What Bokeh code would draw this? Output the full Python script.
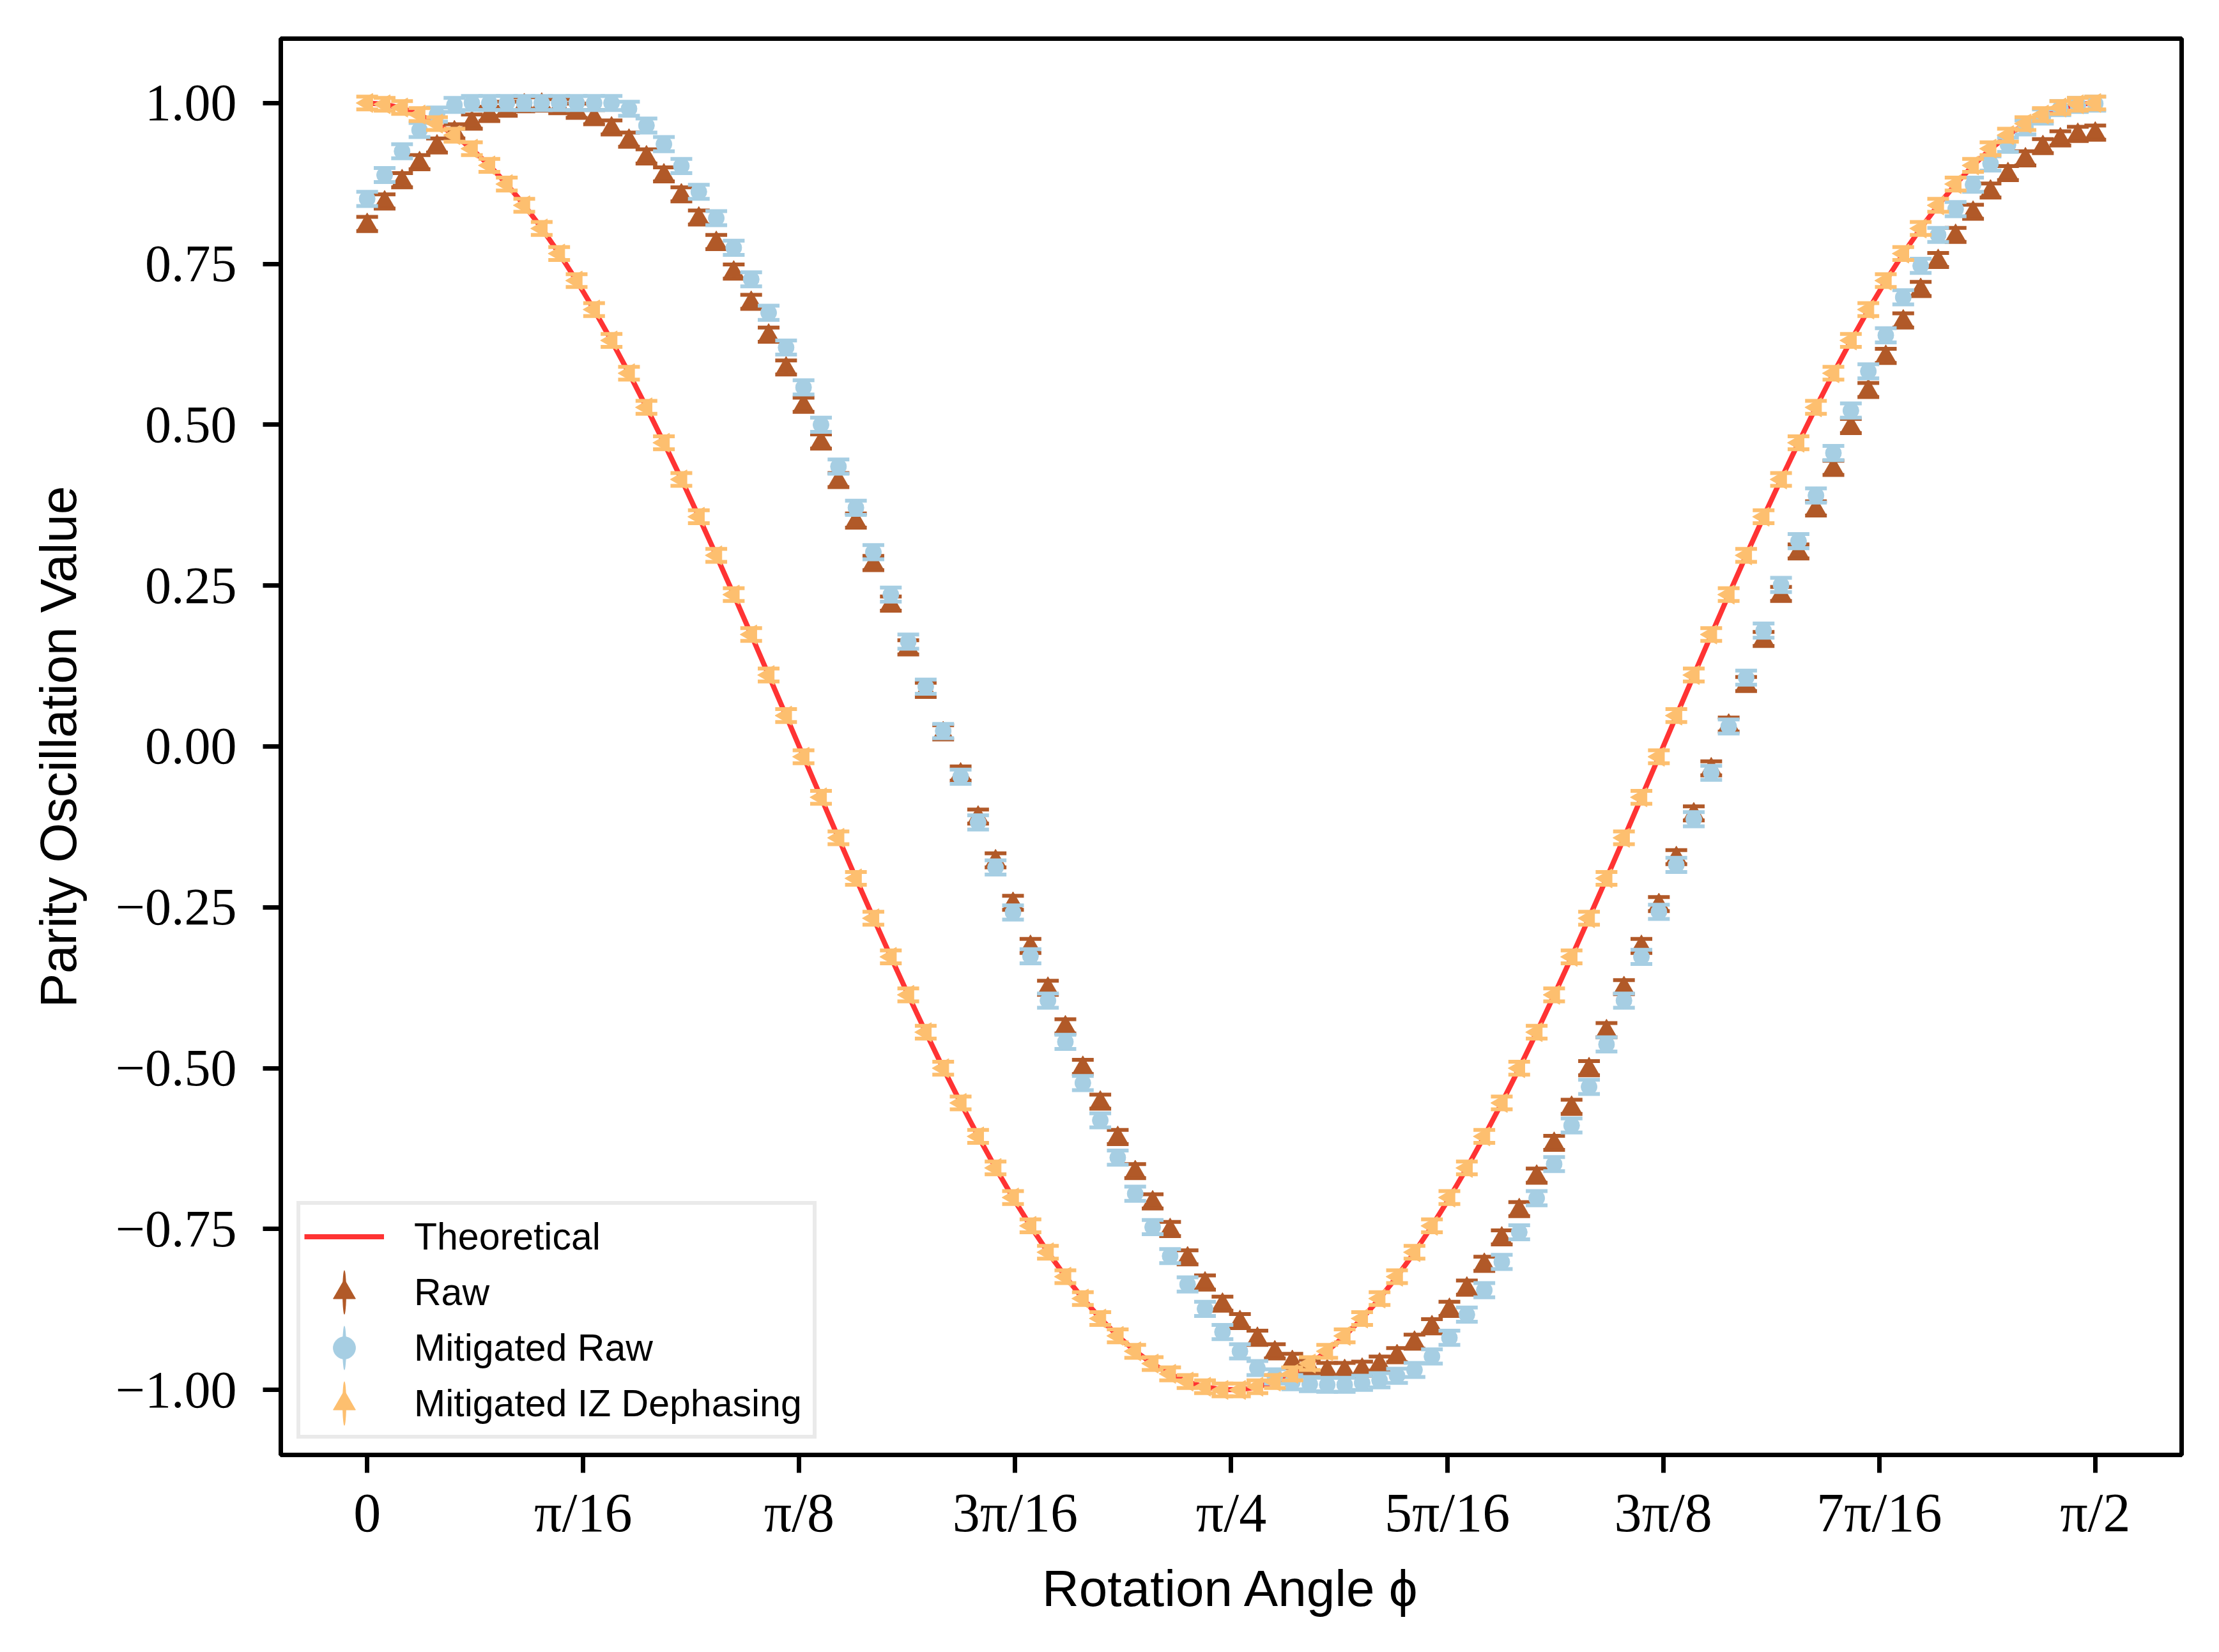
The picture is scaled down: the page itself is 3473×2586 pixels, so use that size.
import numpy as np
from bokeh.plotting import figure
from bokeh.models import Range1d, FixedTicker, Legend, LegendItem
from bokeh.embed import file_html
from bokeh.resources import INLINE

# ---------------- data ----------------
phi = np.linspace(0, np.pi / 2, 100)

theory = [1.0, 0.998, 0.9920, 0.9819, 0.9679, 0.9501, 0.9284, 0.9029, 0.8738, 0.8413,
          0.8053, 0.7660, 0.7237, 0.6785, 0.6305, 0.5800, 0.5271, 0.4721, 0.4154, 0.3569,
          0.2969, 0.2358, 0.1736, 0.1108, 0.0476, -0.0159, -0.0792, -0.1423, -0.2048, -0.2665,
          -0.3271, -0.3863, -0.4441, -0.5, -0.5539, -0.6056, -0.6549, -0.7015, -0.7453, -0.7861,
          -0.8237, -0.8580, -0.8888, -0.9160, -0.9397, -0.9595, -0.9754, -0.9874, -0.9955, -0.9995,
          -0.9995, -0.9955, -0.9874, -0.9754, -0.9595, -0.9397, -0.9160, -0.8888, -0.8580, -0.8237,
          -0.7861, -0.7453, -0.7015, -0.6549, -0.6056, -0.5539, -0.5, -0.4441, -0.3863, -0.3271,
          -0.2665, -0.2048, -0.1423, -0.0792, -0.0159, 0.0476, 0.1108, 0.1736, 0.2358, 0.2969,
          0.3569, 0.4154, 0.4721, 0.5271, 0.5800, 0.6305, 0.6785, 0.7237, 0.7660, 0.8053,
          0.8413, 0.8738, 0.9029, 0.9284, 0.9501, 0.9679, 0.9819, 0.9920, 0.998, 1.0]

raw = [0.812, 0.847, 0.880, 0.908, 0.934, 0.956, 0.971, 0.983, 0.991, 0.998,
       0.999, 0.995, 0.988, 0.978, 0.962, 0.943, 0.917, 0.889, 0.858, 0.822,
       0.784, 0.738, 0.691, 0.640, 0.589, 0.531, 0.474, 0.414, 0.351, 0.285,
       0.222, 0.154, 0.088, 0.022, -0.042, -0.109, -0.177, -0.243, -0.310, -0.375,
       -0.435, -0.498, -0.552, -0.607, -0.660, -0.707, -0.750, -0.794, -0.833, -0.866,
       -0.893, -0.919, -0.940, -0.955, -0.964, -0.969, -0.969, -0.967, -0.959, -0.946,
       -0.925, -0.901, -0.874, -0.841, -0.804, -0.763, -0.719, -0.667, -0.616, -0.560,
       -0.500, -0.441, -0.374, -0.310, -0.245, -0.172, -0.104, -0.034, 0.034, 0.097,
       0.167, 0.237, 0.303, 0.370, 0.433, 0.498, 0.554, 0.607, 0.662, 0.711,
       0.756, 0.795, 0.831, 0.864, 0.891, 0.914, 0.933, 0.945, 0.952, 0.954]

mit_raw = [0.851, 0.888, 0.925, 0.958, 0.982, 0.997, 1.000, 1.000, 1.000, 1.000,
           1.000, 1.000, 1.000, 1.000, 1.000, 0.991, 0.965, 0.936, 0.902, 0.862,
           0.821, 0.775, 0.726, 0.674, 0.620, 0.558, 0.500, 0.435, 0.371, 0.302,
           0.236, 0.163, 0.093, 0.024, -0.047, -0.118, -0.188, -0.258, -0.326, -0.395,
           -0.459, -0.523, -0.581, -0.639, -0.695, -0.747, -0.792, -0.836, -0.874, -0.910,
           -0.940, -0.966, -0.979, -0.988, -0.991, -0.992, -0.992, -0.989, -0.985, -0.978,
           -0.969, -0.948, -0.919, -0.883, -0.845, -0.801, -0.755, -0.702, -0.649, -0.589,
           -0.529, -0.463, -0.395, -0.327, -0.257, -0.184, -0.113, -0.041, 0.031, 0.107,
           0.180, 0.251, 0.319, 0.390, 0.456, 0.522, 0.583, 0.639, 0.698, 0.747,
           0.795, 0.835, 0.873, 0.906, 0.935, 0.962, 0.979, 0.992, 0.997, 0.999]

mit_iz = [1.000, 0.998, 0.993, 0.982, 0.968, 0.950, 0.929, 0.903, 0.874, 0.841,
          0.805, 0.766, 0.724, 0.679, 0.631, 0.580, 0.527, 0.472, 0.415, 0.357,
          0.297, 0.236, 0.174, 0.111, 0.048, -0.016, -0.079, -0.142, -0.205, -0.267,
          -0.327, -0.386, -0.444, -0.500, -0.554, -0.606, -0.655, -0.701, -0.745, -0.786,
          -0.824, -0.858, -0.889, -0.916, -0.940, -0.959, -0.975, -0.987, -0.995, -1.000,
          -1.000, -0.995, -0.987, -0.975, -0.959, -0.940, -0.916, -0.889, -0.858, -0.824,
          -0.786, -0.745, -0.701, -0.655, -0.606, -0.554, -0.500, -0.444, -0.386, -0.327,
          -0.267, -0.205, -0.142, -0.079, -0.016, 0.048, 0.111, 0.174, 0.236, 0.297,
          0.357, 0.415, 0.472, 0.527, 0.580, 0.631, 0.679, 0.724, 0.766, 0.805,
          0.841, 0.874, 0.903, 0.929, 0.950, 0.968, 0.982, 0.993, 0.998, 1.000]

err_raw = 0.011
err_mit_raw = 0.011
err_mit_iz = 0.010

x_tick_values = [k * np.pi / 16 for k in range(9)]
x_tick_labels = ["0", "π/16", "π/8", "3π/16", "π/4", "5π/16", "3π/8", "7π/16", "π/2"]
y_tick_values = [-1.0, -0.75, -0.5, -0.25, 0.0, 0.25, 0.5, 0.75, 1.0]
y_tick_labels = ["\u22121.00", "\u22120.75", "\u22120.50", "\u22120.25", "0.00",
                 "0.25", "0.50", "0.75", "1.00"]

series_labels = ["Theoretical", "Raw", "Mitigated Raw", "Mitigated IZ Dephasing"]

# ---------------- styles ----------------
C_THEORY = "#ff3333"
C_RAW = "#b15928"
C_MRAW = "#a6cee3"
C_MIZ = "#fdbf6f"

p = figure(width=3465, height=2578, output_backend="svg", toolbar_location=None,
           x_range=Range1d(-0.0785, 1.6493), y_range=Range1d(-1.101, 1.100),
           min_border_left=439, min_border_right=51, min_border_top=60,
           min_border_bottom=301)
p.grid.visible = False
p.background_fill_color = "white"
p.border_fill_color = "white"
p.outline_line_color = "black"
p.outline_line_width = 7
p.outline_line_alpha = 1.0

for ax in (p.xaxis[0], p.yaxis[0]):
    ax.axis_line_width = 7
    ax.axis_line_color = "black"
    ax.major_tick_line_width = 7
    ax.major_tick_line_color = "black"
    ax.major_tick_out = 28
    ax.major_tick_in = 0
    ax.minor_tick_out = 0
    ax.minor_tick_in = 0
    ax.major_label_text_font = "Liberation Serif"
    ax.major_label_text_color = "black"
    ax.axis_label_text_font = "Liberation Sans"
    ax.axis_label_text_font_size = "80px"
    ax.axis_label_text_font_style = "normal"
    ax.axis_label_text_color = "black"

p.xaxis[0].ticker = FixedTicker(ticks=x_tick_values)
p.xaxis[0].major_label_overrides = {v: s for v, s in zip(x_tick_values, x_tick_labels)}
p.xaxis[0].major_label_text_font_size = "86px"
p.xaxis[0].major_label_standoff = 14
p.xaxis[0].axis_label = "Rotation Angle \u03d5"
p.xaxis[0].axis_label_standoff = 23

p.yaxis[0].ticker = FixedTicker(ticks=y_tick_values)
p.yaxis[0].major_label_overrides = {v: s for v, s in zip(y_tick_values, y_tick_labels)}
p.yaxis[0].major_label_text_font_size = "82px"
p.yaxis[0].major_label_standoff = 41
p.yaxis[0].axis_label = "Parity Oscillation Value"
p.yaxis[0].axis_label_standoff = 42

# ---------------- glyphs ----------------
r_theory = p.line(phi, theory, line_color=C_THEORY, line_width=8)


def errorbar_series(yvals, err, color, marker, size, angle=0.0):
    y = np.asarray(yvals)
    lo = y - err
    hi = y + err
    p.segment(x0=phi, y0=lo, x1=phi, y1=hi, line_color=color, line_width=6)
    p.scatter(x=phi, y=hi, marker="dash", size=34, line_color=color, line_width=6)
    p.scatter(x=phi, y=lo, marker="dash", size=34, line_color=color, line_width=6)
    pts = p.scatter(x=phi, y=y, marker=marker, size=size, angle=angle,
                    angle_units="rad", fill_color=color, line_color=color, line_width=1)
    # legend-only key for the vertical error bar (no data drawn)
    key = p.ellipse(x=[np.nan], y=[np.nan], width=6, height=70,
                    width_units="screen", height_units="screen",
                    fill_color=color, line_color=color, line_width=0)
    return [key, pts]


r_raw = errorbar_series(raw, err_raw, C_RAW, "triangle", 30)
r_mraw = errorbar_series(mit_raw, err_mit_raw, C_MRAW, "circle", 25)
r_miz = errorbar_series(mit_iz, err_mit_iz, C_MIZ, "triangle", 30, angle=np.pi / 2)

legend = Legend(items=[
    LegendItem(label=series_labels[0], renderers=[r_theory]),
    LegendItem(label=series_labels[1], renderers=r_raw),
    LegendItem(label=series_labels[2], renderers=r_mraw),
    LegendItem(label=series_labels[3], renderers=r_miz),
], location="bottom_left")
legend.label_text_font = "Liberation Sans"
legend.label_text_font_size = "59px"
legend.label_text_color = "black"
legend.glyph_width = 125
legend.glyph_height = 87
legend.label_height = 87
legend.label_width = 618
legend.label_standoff = 47
legend.padding = 6
legend.spacing = 0
legend.margin = 25
legend.border_line_color = "#d6d6d6"
legend.border_line_width = 6
legend.background_fill_color = "white"
legend.background_fill_alpha = 0.8
p.add_layout(legend)

open("out.html", "w").write(file_html(p, INLINE))
